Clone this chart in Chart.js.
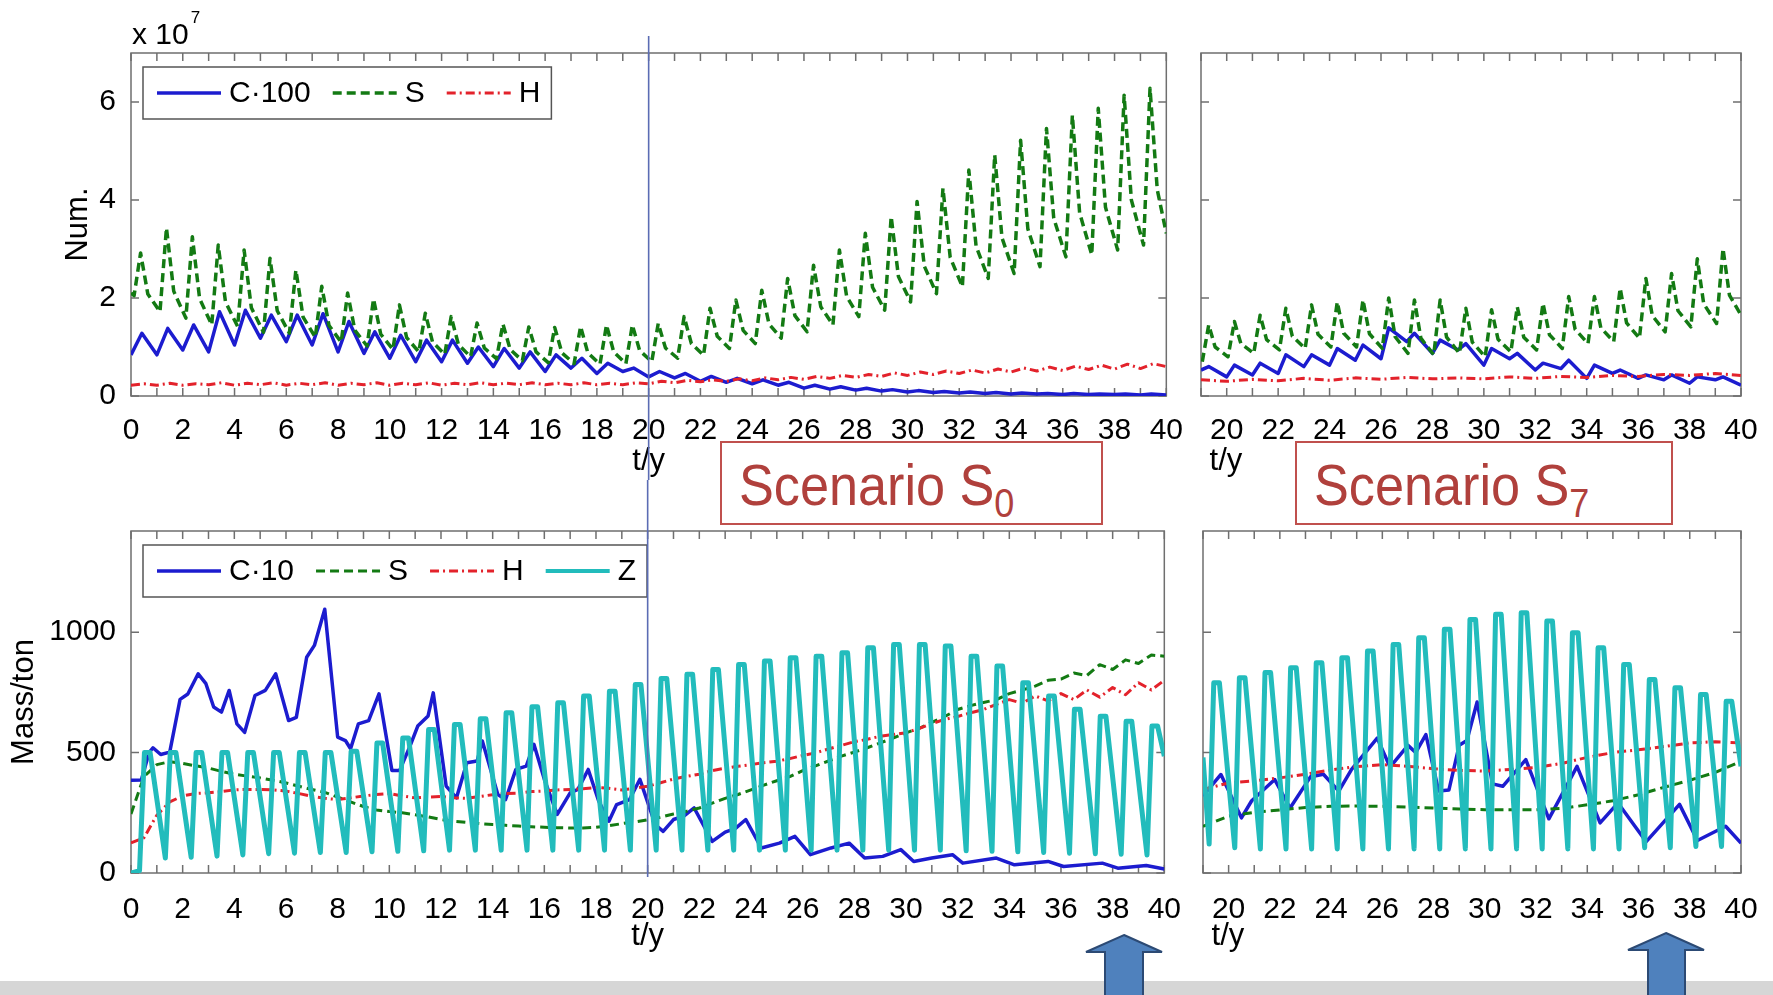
<!DOCTYPE html>
<html lang="en">
<head>
<meta charset="UTF-8">
<title>Scenario S0 / S7 – numbers and mass over time</title>
<script src="https://cdn.jsdelivr.net/npm/chart.js"></script>
<style>
  body { margin: 0; background: #fff; }
  #page { position: relative; width: 1773px; height: 995px; overflow: hidden; background: #fff;
          font-family: "Liberation Sans", Arial, Helvetica, sans-serif; }
  #page canvas { position: absolute; }
  .scenario { position: absolute; box-sizing: border-box; border: 2px solid #c0504d; background: #fff; }
  .scenario span { position: absolute; left: 17px; top: 13px; font-size: 58px; line-height: 58px; color: #b0403c;
                   white-space: nowrap; transform: scaleX(0.9); transform-origin: 0 0; }
  .scenario sub { font-size: 40px; line-height: 0; vertical-align: -12px; }
  #overlay { position: absolute; left: 0; top: 0; pointer-events: none; }
</style>
</head>
<body>
<div id="page">
  <canvas id="numS0" width="1192" height="480" style="left:0;top:0"></canvas>
  <canvas id="numS7" width="581" height="480" style="left:1192px;top:0"></canvas>
  <canvas id="massS0" width="1192" height="515" style="left:0;top:480px"></canvas>
  <canvas id="massS7" width="581" height="515" style="left:1192px;top:480px"></canvas>

  <div class="scenario" style="left:720px;top:441px;width:383px;height:84px"><span>Scenario S<sub>0</sub></span></div>
  <div class="scenario" style="left:1295px;top:441px;width:378px;height:84px"><span>Scenario S<sub>7</sub></span></div>

  <svg id="overlay" width="1773" height="995">
    <rect x="0" y="981" width="1773" height="14" fill="#d6d6d6"/>
    <polygon points="1124,935 1162,952 1143,952 1143,997 1105,997 1105,952 1086,952"
             fill="#4f81bd" stroke="#2c4a74" stroke-width="2"/>
    <polygon points="1666,933 1704,950 1685,950 1685,997 1648,997 1648,950 1628,950"
             fill="#4f81bd" stroke="#2c4a74" stroke-width="2"/>
  </svg>
</div>
<script>
const FONT = '"Liberation Sans", Arial, Helvetica, sans-serif';
Chart.defaults.font.family = FONT;
Chart.defaults.color = '#000';

// axis extents and y tick values
const numMax = 7;        // x 10^7
const massMax = 1420;    // ton
const numTicks = [0, 2, 4, 6];
const massTicks = [0, 500, 1000];

// ---------- Scenario S0, numbers (x 10^7), years 0-40 ----------
// C*100: yearly saw-tooth, low at start of year, high a little later
const s0NumCLow  = [0.84, 0.84, 0.94, 0.90, 1.04, 1.18, 1.11, 1.04, 0.90, 0.87, 0.77, 0.70, 0.70, 0.67, 0.60, 0.57, 0.50, 0.57, 0.46, 0.50,
                    0.39, 0.37, 0.30, 0.28, 0.25, 0.22, 0.16, 0.14, 0.12, 0.10, 0.08, 0.07, 0.06, 0.05, 0.04, 0.04, 0.03, 0.03, 0.03, 0.02];
const s0NumCHigh = [1.28, 1.38, 1.45, 1.72, 1.75, 1.65, 1.65, 1.68, 1.52, 1.31, 1.24, 1.14, 1.14, 1.00, 0.97, 0.90, 0.84, 0.77, 0.67, 0.57,
                    0.50, 0.46, 0.40, 0.36, 0.33, 0.28, 0.22, 0.19, 0.16, 0.13, 0.11, 0.09, 0.08, 0.07, 0.06, 0.05, 0.05, 0.04, 0.04, 0.04];
// S: trough, spike, shoulder of every year
const s0NumSLow  = [2.05, 1.72, 1.59, 1.45, 1.42, 1.30, 1.28, 1.20, 1.10, 1.02, 0.95, 0.90, 0.85, 0.80, 0.76, 0.72, 0.68, 0.66, 0.65, 0.66,
                    0.70, 0.77, 0.83, 0.97, 1.07, 1.18, 1.31, 1.45, 1.62, 1.75, 1.92, 2.09, 2.23, 2.40, 2.50, 2.64, 2.84, 2.88, 2.98, 3.08];
const s0NumSPeak = [2.92, 3.43, 3.25, 3.08, 2.98, 2.81, 2.57, 2.24, 2.10, 1.98, 1.86, 1.69, 1.62, 1.49, 1.47, 1.41, 1.40, 1.42, 1.45, 1.45,
                    1.48, 1.62, 1.79, 1.96, 2.16, 2.40, 2.67, 2.98, 3.32, 3.66, 3.97, 4.24, 4.61, 4.92, 5.22, 5.46, 5.73, 5.87, 6.14, 6.28];
const s0NumSFoot = [2.08, 2.14, 1.99, 1.92, 1.80, 1.74, 1.61, 1.44, 1.34, 1.26, 1.19, 1.10, 1.05, 0.98, 0.95, 0.90, 0.88, 0.88, 0.90, 0.93,
                    0.98, 1.07, 1.22, 1.34, 1.47, 1.64, 1.82, 2.03, 2.22, 2.44, 2.65, 2.83, 3.06, 3.23, 3.41, 3.63, 3.74, 3.85, 4.00, 4.21];
// H: every half year
const s0NumH = [0.22, 0.25, 0.22, 0.26, 0.22, 0.25, 0.23, 0.27, 0.22, 0.26, 0.23, 0.27, 0.22, 0.26, 0.23, 0.27, 0.22, 0.26, 0.23, 0.27,
                0.22, 0.26, 0.23, 0.27, 0.22, 0.26, 0.23, 0.27, 0.23, 0.26, 0.23, 0.27, 0.23, 0.26, 0.23, 0.27, 0.23, 0.26, 0.23, 0.27,
                0.25, 0.30, 0.27, 0.32, 0.29, 0.33, 0.30, 0.35, 0.31, 0.37, 0.33, 0.38, 0.34, 0.40, 0.36, 0.42, 0.38, 0.44, 0.40, 0.47,
                0.42, 0.49, 0.44, 0.51, 0.46, 0.53, 0.47, 0.55, 0.49, 0.57, 0.51, 0.59, 0.52, 0.61, 0.54, 0.63, 0.55, 0.65, 0.56, 0.66, 0.60];

// ---------- Scenario S7, numbers (x 10^7), years 19-40 ----------
const s7NumCLow  = [0.53, 0.39, 0.43, 0.46, 0.60, 0.63, 0.73, 0.76, 1.11, 0.87, 0.94, 0.63, 0.76, 0.53, 0.56, 0.36, 0.46, 0.36, 0.33, 0.26, 0.33];
const s7NumCHigh = [0.60, 0.63, 0.67, 0.84, 0.84, 0.97, 1.04, 1.39, 1.28, 1.14, 1.07, 0.97, 0.87, 0.67, 0.73, 0.63, 0.53, 0.43, 0.43, 0.39, 0.39];
const s7NumSLow  = [0.70, 0.80, 0.87, 0.94, 0.97, 1.00, 1.00, 0.97, 0.87, 0.84, 0.87, 0.80, 0.90, 0.94, 0.97, 1.07, 1.11, 1.18, 1.31, 1.41, 1.48];
const s7NumSPeak = [1.45, 1.52, 1.65, 1.79, 1.86, 1.92, 1.96, 2.00, 1.96, 1.96, 1.79, 1.76, 1.82, 1.89, 2.03, 2.03, 2.20, 2.40, 2.50, 2.80, 3.01];
const s7NumSFoot = [1.00, 1.07, 1.15, 1.22, 1.26, 1.28, 1.27, 1.21, 1.18, 1.20, 1.10, 1.16, 1.20, 1.25, 1.36, 1.39, 1.49, 1.64, 1.74, 1.88, 2.06];
const s7NumH     = [0.33, 0.30, 0.34, 0.31, 0.36, 0.32, 0.37, 0.34, 0.38, 0.35, 0.37, 0.35, 0.39, 0.36, 0.40, 0.38, 0.42, 0.40, 0.44, 0.42, 0.46, 0.42];

// ---------- Scenario S0, mass (ton), years 0-40 ----------
const s0MassCTime = [0, 0.4, 0.7, 0.85, 1.15, 1.5, 1.9, 2.2, 2.6, 2.9, 3.2, 3.5, 3.8, 4.1, 4.4, 4.8, 5.2, 5.6, 6.1, 6.4,
                     6.8, 7.1, 7.5, 8.0, 8.3, 8.5, 8.8, 9.2, 9.6, 10.1, 10.4, 10.8, 11.1, 11.5, 11.7, 12.2, 12.6, 13.0, 13.4, 13.6,
                     14.2, 14.5, 14.9, 15.3, 15.6, 16.0, 16.5, 17.0, 17.3, 17.7, 18.1, 18.5, 18.8, 19.3, 19.7, 20.3, 20.6, 21.0, 21.4, 21.8,
                     22.5, 23.0, 23.4, 23.8, 24.4, 25.1, 25.7, 26.3, 27.1, 27.8, 28.4, 29.1, 29.8, 30.3, 31.0, 31.8, 32.2, 33.5, 34.2, 35.5,
                     36.1, 37.6, 38.2, 39.3, 40];
const s0MassC = [385, 386, 500, 520, 492, 502, 721, 743, 827, 786, 689, 668, 758, 619, 584, 737, 758, 827, 633, 646,
                 896, 945, 1095, 564, 550, 516, 619, 633, 744, 426, 426, 527, 610, 652, 748, 361, 312, 458, 465, 548,
                 326, 305, 430, 444, 534, 389, 243, 333, 347, 430, 300, 215, 284, 305, 389, 200, 173, 222, 236, 270,
                 131, 170, 185, 222, 104, 124, 152, 76, 104, 124, 62, 69, 97, 48, 62, 76, 41, 62, 34, 48,
                 27, 41, 20, 31, 17];
const s0MassS = [245, 400, 450, 462, 455, 445, 436, 422, 410, 402, 395, 385, 374, 360, 347, 335, 315, 295, 276, 262,
                 255, 250, 242, 233, 222, 215, 210, 205, 201, 198, 195, 192, 190, 188, 187, 187, 190, 196, 205, 212,
                 221, 232, 245, 256, 270, 290, 310, 326, 345, 365, 383, 400, 425, 445, 465, 485, 502, 520, 540, 560,
                 582, 600, 625, 650, 679, 695, 708, 720, 745, 760, 776, 800, 805, 830, 820, 865, 845, 885, 870, 905, 900];
const s0MassH = [125, 146, 240, 295, 320, 330, 333, 338, 345, 347, 347, 345, 340, 330, 318, 310, 305, 312, 320, 326,
                 330, 320, 312, 315, 318, 312, 310, 318, 325, 330, 332, 338, 340, 345, 347, 350, 355, 352, 345, 352,
                 360, 375, 390, 401, 410, 425, 435, 443, 450, 458, 464, 475, 488, 499, 515, 530, 545, 555, 568, 575,
                 582, 600, 620, 638, 650, 665, 679, 700, 720, 705, 735, 715, 745, 720, 760, 730, 770, 740, 790, 760, 800];
// Z: yearly trough and flat top
const s0MassZLow = [10, 62, 65, 70, 75, 80, 82, 85, 85, 88, 90, 92, 95, 95, 95, 95, 95, 95, 95, 95,
                    95, 95, 95, 95, 95, 95, 95, 95, 95, 95, 95, 95, 92, 90, 88, 85, 82, 80, 78, 75];
const s0MassZTop = [500, 500, 500, 500, 500, 500, 500, 500, 505, 540, 561, 596, 617, 640, 665, 690, 707, 735, 755, 783,
                    808, 825, 845, 866, 880, 894, 900, 914, 935, 949, 949, 942, 900, 859, 790, 735, 680, 651, 630, 610];

// ---------- Scenario S7, mass (ton), years 19-40 ----------
const s7MassCTime = [19.0, 19.7, 20.5, 20.9, 21.8, 22.4, 23.2, 23.7, 24.3, 24.8, 25.8, 26.3, 27.0, 27.3, 27.7, 28.2,
                     28.6, 29.0, 29.3, 29.7, 30.3, 30.7, 31.6, 32.5, 33.6, 34.5, 35.2, 36.3, 37.6, 38.3, 39.4, 40.0];
const s7MassC = [320, 409, 229, 300, 388, 270, 400, 410, 340, 430, 560, 440, 530, 500, 575, 340,
                 345, 530, 550, 710, 370, 360, 471, 225, 443, 208, 291, 130, 285, 135, 194, 124];
const s7MassS = [194, 236, 252, 262, 272, 277, 278, 277, 274, 270, 266, 263, 263, 263, 268, 283, 300, 325, 356, 385, 418, 464];
const s7MassH = [347, 374, 383, 395, 410, 428, 442, 450, 443, 433, 426, 423, 430, 438, 455, 480, 500, 512, 525, 540, 545, 540];
const s7MassZLow = [120, 105, 100, 100, 100, 100, 100, 100, 100, 100, 100, 100, 100, 100, 100, 100, 100, 105, 105, 110, 110];
const s7MassZTop = [790, 811, 832, 852, 873, 894, 922, 949, 977, 1012, 1053, 1074, 1081, 1046, 998, 935, 866, 803, 769, 741, 713];

// ---------- point builders ----------
// one point per year and phase; phases = [[offset within year, values], ...]
function cycles(firstYear, phases, head, tail) {
  const pts = head ? [{x: head[0], y: head[1]}] : [];
  for (let i = 0; i < phases[0][1].length; i++) {
    phases.forEach(([dt, vals]) => pts.push({x: firstYear + i + dt, y: vals[i]}));
  }
  if (tail) pts.push({x: tail[0], y: tail[1]});
  return pts;
}
const even = (t0, dt, vals) => vals.map((v, i) => ({x: t0 + i * dt, y: v}));
const paired = (ts, vals) => ts.map((t, i) => ({x: t, y: vals[i]}));

const BLUE = '#1c1ccf', GREEN = '#137a13', RED = '#e3222b', CYAN = '#22bcbc';
function line(label, data, color, width, dash, order) {
  return { label, data, borderColor: color, borderWidth: width, borderDash: dash, order,
           pointRadius: 0, tension: 0, fill: false, borderJoinStyle: 'round' };
}

// box, inward ticks on all four sides
const matlabAxes = {
  id: 'matlabAxes',
  beforeDatasetsDraw(chart) {
    const {ctx, chartArea: a, scales: {x, y}} = chart;
    const tl = 8;
    ctx.save();
    ctx.strokeStyle = '#6f6f6f';
    ctx.lineWidth = 1.5;
    ctx.beginPath();
    x.ticks.forEach(t => {
      const px = x.getPixelForValue(t.value);
      ctx.moveTo(px, a.bottom); ctx.lineTo(px, a.bottom - tl);
      ctx.moveTo(px, a.top); ctx.lineTo(px, a.top + tl);
    });
    y.ticks.forEach(t => {
      const py = y.getPixelForValue(t.value);
      ctx.moveTo(a.left, py); ctx.lineTo(a.left + tl, py);
      ctx.moveTo(a.right, py); ctx.lineTo(a.right - tl, py);
    });
    ctx.stroke();
    ctx.strokeRect(a.left, a.top, a.right - a.left, a.bottom - a.top);
    ctx.restore();
  }
};

// legend in a framed box at the top-left corner of the axes
const boxedLegend = {
  id: 'boxedLegend',
  afterDatasetsDraw(chart, args, opts) {
    if (!opts.show) return;
    const {ctx, chartArea: a} = chart;
    const sets = chart.data.datasets;
    const sample = 64, gapIn = 8, gapOut = 22, padL = 14, padR = 11, h = 52;
    ctx.save();
    ctx.font = '30px ' + FONT;
    let w = padL;
    sets.forEach((d, i) => {
      w += sample + gapIn + ctx.measureText(d.label).width + (i < sets.length - 1 ? gapOut : padR);
    });
    const x0 = a.left + 12, y0 = a.top + 14, cy = y0 + h / 2;
    ctx.fillStyle = '#fff';
    ctx.fillRect(x0, y0, w, h);
    ctx.strokeStyle = '#555';
    ctx.lineWidth = 1.5;
    ctx.strokeRect(x0, y0, w, h);
    let x = x0 + padL;
    sets.forEach(d => {
      ctx.beginPath();
      ctx.setLineDash(d.borderDash);
      ctx.strokeStyle = d.borderColor;
      ctx.lineWidth = Math.min(d.borderWidth, 4);
      ctx.moveTo(x, cy);
      ctx.lineTo(x + sample, cy);
      ctx.stroke();
      ctx.setLineDash([]);
      x += sample + gapIn;
      ctx.fillStyle = '#000';
      ctx.textBaseline = 'middle';
      ctx.fillText(d.label, x, cy + 1);
      x += ctx.measureText(d.label).width + gapOut;
    });
    ctx.restore();
  }
};

// exponent label and the marker line at year 20
const panelExtras = {
  id: 'panelExtras',
  afterDraw(chart, args, opts) {
    const {ctx, chartArea: a, scales: {x}} = chart;
    ctx.save();
    if (opts.exponent) {
      ctx.fillStyle = '#000';
      ctx.textBaseline = 'middle';
      ctx.font = '30px ' + FONT;
      ctx.fillText('x 10', a.left + 1, a.top - 17);
      const w = ctx.measureText('x 10').width;
      ctx.font = '17px ' + FONT;
      ctx.fillText('7', a.left + 3 + w, a.top - 35);
    }
    if (opts.markAt !== undefined) {
      const px = x.getPixelForValue(opts.markAt);
      ctx.strokeStyle = '#5b6cb4';
      ctx.lineWidth = 1.6;
      ctx.beginPath();
      ctx.moveTo(px, opts.markTop);
      ctx.lineTo(px, opts.markBottom);
      ctx.stroke();
    }
    ctx.restore();
  }
};

function panel(id, o) {
  new Chart(document.getElementById(id), {
    type: 'line',
    data: { datasets: o.datasets },
    plugins: [matlabAxes, boxedLegend, panelExtras],
    options: {
      responsive: false,
      animation: false,
      events: [],
      layout: { padding: { top: o.top, right: o.right, bottom: 0, left: 0 } },
      plugins: {
        legend: { display: false },
        tooltip: { enabled: false },
        boxedLegend: { show: !!o.legend },
        panelExtras: o.extras || {}
      },
      scales: {
        x: {
          type: 'linear', min: o.xMin, max: 40,
          grid: { display: false }, border: { display: false },
          ticks: { stepSize: 1, autoSkip: false, maxRotation: 0, minRotation: 0, padding: o.xPad,
                   font: { size: 30 }, callback: v => (v % 2 === 0 ? String(v) : '') },
          title: { display: true, text: o.xTitle, align: o.xTitleAlign, font: { size: 31 },
                   padding: { top: 0, bottom: o.xTitlePad } },
          afterFit: s => { s.height = o.xHeight; }
        },
        y: {
          min: 0, max: o.yMax,
          grid: { display: false }, border: { display: false },
          afterBuildTicks: s => { s.ticks = o.yTicks.map(v => ({ value: v })); },
          ticks: { display: o.yLabels, padding: 7, font: { size: 30 }, callback: v => String(v) },
          title: { display: !!o.yTitle, text: o.yTitle || '', font: { size: 31 },
                   padding: { top: o.yTitlePad || 0, bottom: 0 } },
          afterFit: s => { s.width = o.yWidth; }
        }
      }
    }
  });
}

// top left: numbers, scenario S0
panel('numS0', {
  top: 53, right: 18, xMin: 0, xPad: 9, xHeight: 84, xTitle: 't/y', xTitleAlign: 'center', xTitlePad: 0,
  yMax: numMax, yTicks: numTicks, yLabels: true, yWidth: 131, yTitle: 'Num.', yTitlePad: 60,
  legend: true,
  extras: { exponent: true, markAt: 20, markTop: 36, markBottom: 480 },
  datasets: [
    line('C·100', cycles(0, [[0, s0NumCLow], [0.42, s0NumCHigh]], null, [40, 0.02]), BLUE, 3.5, [], 4),
    line('S', cycles(0, [[0.12, s0NumSLow], [0.37, s0NumSPeak], [0.65, s0NumSFoot]], [0, 2.1], [40, 3.32]), GREEN, 3.5, [9, 5], 3),
    line('H', even(0, 0.5, s0NumH), RED, 3, [9, 4, 2, 4], 2)
  ]
});

// top right: numbers, scenario S7
panel('numS7', {
  top: 53, right: 32, xMin: 19, xPad: 9, xHeight: 84, xTitle: ' t/y', xTitleAlign: 'start', xTitlePad: 0,
  yMax: numMax, yTicks: numTicks, yLabels: false, yWidth: 1,
  datasets: [
    line('C·100', cycles(19, [[0, s7NumCLow], [0.3, s7NumCHigh]], null, [40, 0.22]), BLUE, 3.5, [], 4),
    line('S', cycles(19, [[0.05, s7NumSLow], [0.3, s7NumSPeak], [0.55, s7NumSFoot]], null, [40, 1.65]), GREEN, 3.5, [9, 5], 3),
    line('H', even(19, 1, s7NumH), RED, 3, [9, 4, 2, 4], 2)
  ]
});

// bottom left: mass, scenario S0
panel('massS0', {
  top: 51, right: 18, xMin: 0, xPad: 11, xHeight: 122, xTitle: 't/y', xTitleAlign: 'center', xTitlePad: 40,
  yMax: massMax, yTicks: massTicks, yLabels: true, yWidth: 131, yTitle: 'Mass/ton', yTitlePad: 6,
  legend: true,
  extras: { markAt: 20, markTop: 0, markBottom: 397 },
  datasets: [
    line('C·10', paired(s0MassCTime, s0MassC), BLUE, 3.5, [], 4),
    line('S', even(0, 0.5, s0MassS), GREEN, 3, [9, 5], 3),
    line('H', even(0, 0.5, s0MassH), RED, 3, [9, 4, 2, 4], 2),
    line('Z', cycles(0, [[0.33, s0MassZLow], [0.52, s0MassZTop], [0.74, s0MassZTop]], [0, 0], [40, 485]), CYAN, 5, [], 1)
  ]
});

// bottom right: mass, scenario S7
panel('massS7', {
  top: 51, right: 32, xMin: 19, xPad: 11, xHeight: 122, xTitle: ' t/y', xTitleAlign: 'start', xTitlePad: 40,
  yMax: massMax, yTicks: massTicks, yLabels: false, yWidth: 1,
  datasets: [
    line('C·10', paired(s7MassCTime, s7MassC), BLUE, 3.5, [], 4),
    line('S', even(19, 1, s7MassS), GREEN, 3, [9, 5], 3),
    line('H', even(19, 1, s7MassH), RED, 3, [9, 4, 2, 4], 2),
    line('Z', cycles(19, [[0.24, s7MassZLow], [0.42, s7MassZTop], [0.64, s7MassZTop]], [19, 480], [40, 443]), CYAN, 5, [], 1)
  ]
});
</script>
</body>
</html>
